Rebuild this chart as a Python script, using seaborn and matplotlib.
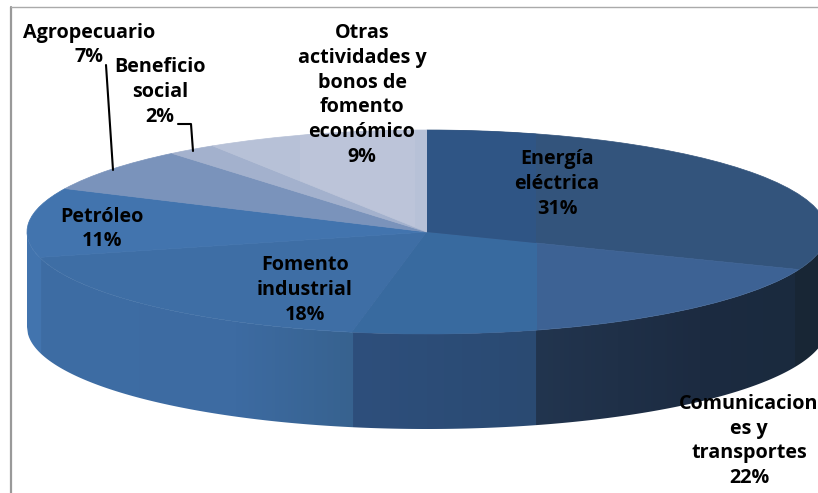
import numpy as np
import matplotlib
matplotlib.use('Agg')
import matplotlib.pyplot as plt
from matplotlib.colors import to_rgb
from matplotlib.patches import Rectangle, Polygon
import seaborn as sns

# Datos del grafico
sectores = ['Energía\neléctrica', 'Comunicacion\nes y\ntransportes', 'Fomento\nindustrial',
            'Petróleo', 'Agropecuario', 'Beneficio\nsocial',
            'Otras\nactividades y\nbonos de\nfomento\neconómico']
valores = [31, 22, 18, 11, 7, 2, 9]
colores = ['#33547c', '#3d6294', '#3e6ea5', '#4274ae', '#7a93bb', '#a3b1cd', '#b7c1d7']

# Geometria en pixeles de la imagen
W, H = 818, 493
CX, CY, RX, RY, PROF = 427, 232, 400, 102, 95

sns.set_theme(style='white')
plt.rcParams['font.family'] = ['Open Sans', 'DejaVu Sans']

fig = plt.figure(figsize=(W / 100, H / 100), dpi=100)
ax = fig.add_axes([0, 0, 1, 1])
etiquetas_pct = [f'{s}\n{v}%' for s, v in zip(sectores, valores)]

wedges, _ = ax.pie(valores, colors=colores, startangle=90, counterclock=False, radius=1,
                   wedgeprops={'linewidth': 0})
# borde del mismo color para tapar las juntas entre sectores
for w, c in zip(wedges, colores):
    w.set_edgecolor(c)
    w.set_linewidth(0.5)
ax.set_aspect('auto')
ax.axis('off')

def ux(px):
    return (px - CX) / RX

# Tonos de la pared lateral, de izquierda a derecha (x en pixeles)
pared_x = [27, 40, 41, 235, 352, 353, 536, 537, 700, 795, 796, 827]
pared_c = ['#4274ae', '#4274ae', '#3e6da4', '#3d6ba2', '#37628f', '#2e4f7c', '#2a4a72',
           '#22354f', '#1c2b41', '#1a2a3e', '#182635', '#182635']
pared_rgb = np.array([to_rgb(c) for c in pared_c])

# Pared: degradado recortado con la silueta del cilindro
col_px = np.arange(CX - RX, CX + RX + 1)
degradado = np.stack([np.interp(col_px, pared_x, pared_rgb[:, k]) for k in range(3)], axis=1)[None, :, :]
xs = np.linspace(-1, 1, 801)
y_sup = -np.sqrt(1 - xs ** 2)
silueta = Polygon(np.r_[np.c_[xs, y_sup], np.c_[xs[::-1], y_sup[::-1] - PROF / RY]],
                  transform=ax.transData, facecolor='none', edgecolor='none')
ax.add_patch(silueta)
img = ax.imshow(degradado, extent=(-1, 1, -1 - PROF / RY, 0), aspect='auto', zorder=0.5, interpolation='nearest')
img.set_clip_path(silueta)
ax.set_aspect('auto')
ax.set_xlim(-CX / RX, (W - CX) / RX)
ax.set_ylim((CY - H) / RY, CY / RY)

# Franjas de otro tono en la cara superior
for idx, x0, x1, tono in [(1, 300, 537, '#386a9f'), (0, 427, 536, '#2f5585'), (6, 300, 415, '#bcc4d9')]:
    franja = Rectangle((ux(x0), -2), ux(x1) - ux(x0), 4, color=tono, linewidth=0, zorder=wedges[idx].get_zorder() + 0.1)
    ax.add_patch(franja)
    franja.set_clip_path(wedges[idx])

# Capa de textos y lineas en pixeles
top = fig.add_axes([0, 0, 1, 1])
top.set_xlim(0, W)
top.set_ylim(H, 0)
top.axis('off')
top.patch.set_alpha(0)

pos_txt = [(557, 184), (749, 441), (305, 290), (102, 229), (89, 45), (160, 92), (362, 95)]
for txt, (x, y) in zip(etiquetas_pct, pos_txt):
    top.text(x, y, txt, ha='center', va='center', fontsize=14.2, fontweight='bold',
             color='black', linespacing=1.33, clip_on=False)

# Lineas guia
top.plot([106, 113], [65, 170], color='black', lw=1.5)
top.plot([178, 191, 193], [124, 124, 151], color='black', lw=1.5)

# Marco
top.plot([11, 11], [7, H], color='#999999', lw=1.6)
top.plot([11, W], [7, 7], color='#aaaaaa', lw=1.0)

plt.savefig('out.png', dpi=100)
